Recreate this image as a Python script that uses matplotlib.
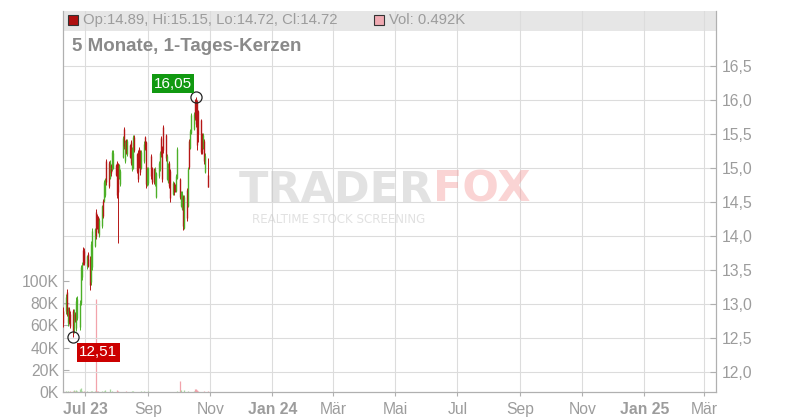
import matplotlib
matplotlib.use("Agg")
import matplotlib.pyplot as plt
import matplotlib.dates as mdates
from matplotlib.patches import Rectangle
import pandas as pd

plt.rcParams['font.family'] = ['Liberation Sans', 'DejaVu Sans']

# daily candles, 9 Jun 2023 - 30 Oct 2023
dates = pd.bdate_range("2023-06-09", "2023-10-30")

opens = [12.89, 12.90, 13.18, 12.72, 12.92, 12.86, 12.90, 12.62, 12.85, 12.64,
         12.80, 12.66, 13.02, 13.40, 13.80, 13.78, 13.56, 13.74, 13.66, 13.32,
         13.55, 13.86, 14.36, 14.30, 14.28, 14.02, 14.14, 14.52, 14.52, 14.60,
         15.10, 15.08, 14.86, 15.04, 14.98, 15.00, 15.04, 15.08, 15.06, 14.86,
         14.76, 15.16, 15.58, 15.10, 15.40, 15.20, 15.34, 15.38, 14.98, 15.00,
         15.46, 15.20, 15.24, 15.28, 15.24, 15.00, 15.10, 15.45, 15.38, 14.76,
         14.78, 15.18, 15.00, 14.98, 14.76, 14.58, 14.88, 14.98, 15.44, 15.30,
         15.60, 15.48, 14.84, 14.80, 15.08, 14.96, 14.62, 14.78, 14.74, 14.66,
         14.86, 14.84, 14.44, 14.40, 14.58, 14.12, 14.68, 14.44, 15.40, 15.30,
         15.52, 15.58, 15.98, 16.02, 15.98, 15.84, 15.70, 15.50, 15.30, 15.40,
         14.94, 14.89]
highs = [12.95, 13.15, 13.22, 12.95, 12.95, 12.90, 12.92, 12.92, 12.88, 13.10,
         13.12, 13.06, 13.58, 13.62, 13.84, 13.82, 13.72, 13.76, 13.70, 13.92,
         14.12, 14.12, 14.40, 14.32, 14.30, 14.26, 14.46, 14.54, 14.82, 14.86,
         15.13, 15.10, 15.12, 15.06, 15.27, 15.27, 15.06, 15.10, 15.08, 15.06,
         14.99, 15.47, 15.61, 15.41, 15.42, 15.42, 15.36, 15.41, 15.31, 15.49,
         15.48, 15.22, 15.26, 15.31, 15.26, 15.26, 15.39, 15.47, 15.40, 15.01,
         15.02, 15.20, 15.02, 15.00, 15.01, 14.94, 15.11, 15.25, 15.47, 15.32,
         15.63, 15.50, 15.21, 15.08, 15.10, 14.98, 14.81, 14.80, 14.76, 14.91,
         15.31, 14.86, 14.66, 14.66, 14.60, 14.61, 14.70, 15.01, 15.42, 15.57,
         15.81, 15.83, 16.01, 16.05, 16.00, 15.86, 15.72, 15.52, 15.51, 15.42,
         15.22, 15.15]
lows = [12.66, 12.85, 12.82, 12.68, 12.70, 12.64, 12.51, 12.58, 12.74, 12.60,
        12.76, 12.62, 12.98, 13.36, 13.58, 13.58, 13.52, 13.54, 13.20, 13.28,
        13.50, 13.84, 13.96, 14.10, 14.04, 13.98, 14.12, 14.26, 14.50, 14.58,
        14.75, 14.70, 14.84, 14.88, 14.96, 14.98, 14.88, 14.56, 13.90, 14.84,
        14.74, 15.14, 15.28, 15.08, 15.20, 15.18, 15.14, 15.04, 14.96, 14.98,
        15.24, 14.92, 14.80, 15.00, 14.90, 14.98, 15.08, 15.26, 14.70, 14.74,
        14.75, 14.84, 14.76, 14.76, 14.74, 14.56, 14.86, 14.96, 15.16, 14.80,
        15.22, 15.10, 14.82, 14.78, 14.70, 14.50, 14.60, 14.60, 14.64, 14.64,
        14.84, 14.54, 14.42, 14.38, 14.09, 14.10, 14.22, 14.42, 14.98, 15.28,
        15.50, 15.56, 15.70, 15.60, 15.26, 15.38, 15.20, 15.20, 15.28, 15.06,
        14.92, 14.72]
closes = [12.72, 13.10, 12.86, 12.90, 12.74, 12.68, 12.60, 12.88, 12.76, 13.05,
          13.08, 13.02, 13.55, 13.58, 13.62, 13.60, 13.70, 13.56, 13.28, 13.88,
          14.08, 14.10, 14.00, 14.12, 14.06, 14.24, 14.44, 14.30, 14.80, 14.84,
          14.80, 14.74, 15.08, 14.92, 15.24, 15.22, 14.90, 14.60, 14.64, 15.04,
          14.96, 15.44, 15.32, 15.38, 15.22, 15.40, 15.16, 15.08, 15.28, 15.46,
          15.26, 14.96, 14.84, 15.04, 14.94, 15.24, 15.36, 15.28, 14.76, 14.98,
          15.00, 14.88, 14.80, 14.80, 14.98, 14.92, 15.08, 15.22, 15.20, 14.84,
          15.26, 15.14, 15.18, 15.04, 14.74, 14.56, 14.78, 14.64, 14.66, 14.88,
          15.28, 14.58, 14.64, 14.62, 14.14, 14.58, 14.26, 14.98, 15.02, 15.54,
          15.78, 15.80, 15.74, 15.64, 15.34, 15.50, 15.24, 15.22, 15.48, 15.10,
          15.18, 14.72]
# volume in thousands
volumes = [0.5, 0.8, 0.4, 0.6, 0.3, 0.5, 0.8, 1.5, 0.6, 2.0,
           0.8, 3.0, 3.5, 1.2, 0.4, 0.5, 0.6, 0.3, 0.4, 1.0,
           0.5, 0.6, 84.0, 0.8, 0.5, 0.4, 0.6, 0.3, 1.0, 1.5,
           0.4, 0.3, 3.0, 0.3, 0.8, 0.4, 0.3, 1.5, 1.0, 0.3,
           0.4, 0.3, 0.4, 0.3, 0.5, 0.3, 0.4, 0.3, 0.5, 1.0,
           0.3, 0.4, 0.3, 0.3, 0.4, 0.8, 0.8, 0.3, 0.4, 0.3,
           1.0, 0.3, 0.2, 0.3, 0.2, 0.3, 0.4, 0.2, 0.3, 0.2,
           0.3, 0.2, 0.3, 0.2, 0.3, 0.2, 0.3, 0.2, 0.3, 0.4,
           0.5, 10.0, 1.5, 0.4, 0.3, 2.0, 0.3, 1.0, 0.4, 0.3,
           0.4, 0.5, 3.0, 3.0, 2.0, 1.0, 0.4, 0.3, 0.4, 0.5,
           0.3, 0.492]

price_ticks = [12.0, 12.5, 13.0, 13.5, 14.0, 14.5, 15.0, 15.5, 16.0, 16.5]
vol_ticks = [0, 20, 40, 60, 80, 100]
month_ticks = ["2023-07-01", "2023-09-01", "2023-11-01", "2024-01-01", "2024-03-01",
               "2024-05-01", "2024-07-01", "2024-09-01", "2024-11-01", "2025-01-01",
               "2025-03-01"]
month_labels = ["Jul 23", "Sep", "Nov", "Jan 24", "Mär", "Mai", "Jul", "Sep", "Nov",
                "Jan 25", "Mär"]
bold_labels = {"Jul 23", "Jan 24", "Jan 25"}

GREEN = "#4caf28"
RED = "#b51616"
VGREEN = "#a6d89c"
VRED = "#f2a3ab"
GRID = "#dcdcdc"
TXT = "#9c9c9c"
SPINE = "#b0b0b0"

fig = plt.figure(figsize=(8, 4.2), dpi=100)
axv = fig.add_axes([63 / 800, 28 / 420, 653 / 800, 381 / 420])
axp = axv.twinx()

x = mdates.date2num(dates)
up = [c >= o for o, c in zip(opens, closes)]

# header band
axv.add_patch(Rectangle((0, (392 - 31) / 381), 1, 1, transform=axv.transAxes,
                        fc="#e6e6e6", ec="none", zorder=0.2))

# volume
axv.vlines(x, 0, volumes, colors=[VGREEN if u else VRED for u in up], lw=0.9, zorder=2)
axv.set_ylim(0, 100 * 381 / 111)
axv.set_yticks(vol_ticks)
axv.set_yticklabels([f"{v}K" for v in vol_ticks])
axv.set_xlim(mdates.date2num(pd.Timestamp("2023-06-08 22:00")),
             mdates.date2num(pd.Timestamp("2025-03-12 14:00")))
axv.set_xticks(mdates.date2num(pd.to_datetime(month_ticks)))
axv.set_xticklabels(month_labels)
for lbl in axv.get_xticklabels():
    if lbl.get_text() in bold_labels:
        lbl.set_fontweight("bold")
axv.set_axisbelow(True)
axv.grid(True, axis="x", color=GRID, lw=0.8)
axv.tick_params(axis="y", direction="in", length=4, color=SPINE, labelcolor=TXT,
                labelsize=11.3, pad=3)
axv.tick_params(axis="x", direction="out", length=3, color=SPINE, labelcolor=TXT,
                labelsize=11.3, pad=4)

# candles
cols = [GREEN if u else RED for u in up]
axp.vlines(x, lows, highs, colors=cols, lw=0.7, zorder=3)
axp.vlines(x, [min(o, c) for o, c in zip(opens, closes)],
           [max(o, c) for o, c in zip(opens, closes)], colors=cols, lw=1.0, zorder=3)
axp.set_ylim(12 - 20 / 68, 12 + 361 / 68)
axp.set_yticks(price_ticks)
axp.set_yticklabels([f"{t:.1f}".replace(".", ",") for t in price_ticks])
axp.set_axisbelow(True)
axp.grid(True, axis="y", color=GRID, lw=0.8)
axp.tick_params(axis="y", direction="in", length=4, color=SPINE, labelcolor=TXT,
                labelsize=11.3, pad=4)

for a in (axv, axp):
    a.spines["top"].set_visible(False)
    for s in ("left", "right", "bottom"):
        a.spines[s].set_color(SPINE)

# high / low markers
ih = highs.index(max(highs))
il = lows.index(min(lows))
axp.plot([x[ih], x[il]], [highs[ih], lows[il]], "o", mfc="none", mec="#222222",
         ms=8, mew=0.9, zorder=5)
axp.annotate(f"{highs[ih]:.2f}".replace(".", ","), (x[ih], highs[ih]),
             xytext=(-4, 6), textcoords="offset pixels", ha="right", va="bottom",
             color="white", fontsize=11,
             bbox=dict(boxstyle="square,pad=0.15", fc="#119911", ec="none"), zorder=6)
axp.annotate(f"{lows[il]:.2f}".replace(".", ","), (x[il], lows[il]),
             xytext=(6, -8), textcoords="offset pixels", ha="left", va="top",
             color="white", fontsize=11,
             bbox=dict(boxstyle="square,pad=0.15", fc="#cc0000", ec="none"), zorder=6)

# header texts
hy = (392 - 20) / 381
axp.plot([(73 - 63) / 653], [hy], "s", ms=7.5, mfc="#b01010", mec="#333333", mew=0.8,
         transform=axp.transAxes, clip_on=False, zorder=6)
axp.text((83 - 63) / 653, hy, f"Op:{opens[-1]:.2f}, Hi:{highs[-1]:.2f}, "
         f"Lo:{lows[-1]:.2f}, Cl:{closes[-1]:.2f}",
         transform=axp.transAxes, va="center", ha="left", color=TXT, fontsize=10.7)
axp.plot([(379 - 63) / 653], [hy], "s", ms=7.5, mfc="#f0aab2", mec="#333333", mew=0.8,
         transform=axp.transAxes, clip_on=False, zorder=6)
axp.text((389 - 63) / 653, hy, f"Vol: {volumes[-1]:.3f}K",
         transform=axp.transAxes, va="center", ha="left", color=TXT, fontsize=10.7)
axp.text((72 - 63) / 653, (392 - 47) / 381, "5 Monate, 1-Tages-Kerzen",
         transform=axp.transAxes, va="center", ha="left", color="#8a8a8a",
         fontsize=13.5, fontweight="bold")

# watermark
fig.text(433 / 800, 1 - 190 / 420, "TRADER", ha="right", va="center", fontsize=31,
         fontweight="bold", family="DejaVu Sans", color="#c0c0c0", alpha=0.45)
fig.text(433 / 800, 1 - 190 / 420, "FOX", ha="left", va="center", fontsize=31,
         fontweight="bold", family="DejaVu Sans", color="#f4a0a0", alpha=0.45)
fig.text(252 / 800, 1 - 219 / 420, "REALTIME STOCK SCREENING", ha="left", va="center",
         fontsize=8.6, family="DejaVu Sans", color="#c4c4c4", alpha=0.5)

fig.savefig("out.png", dpi=100)
